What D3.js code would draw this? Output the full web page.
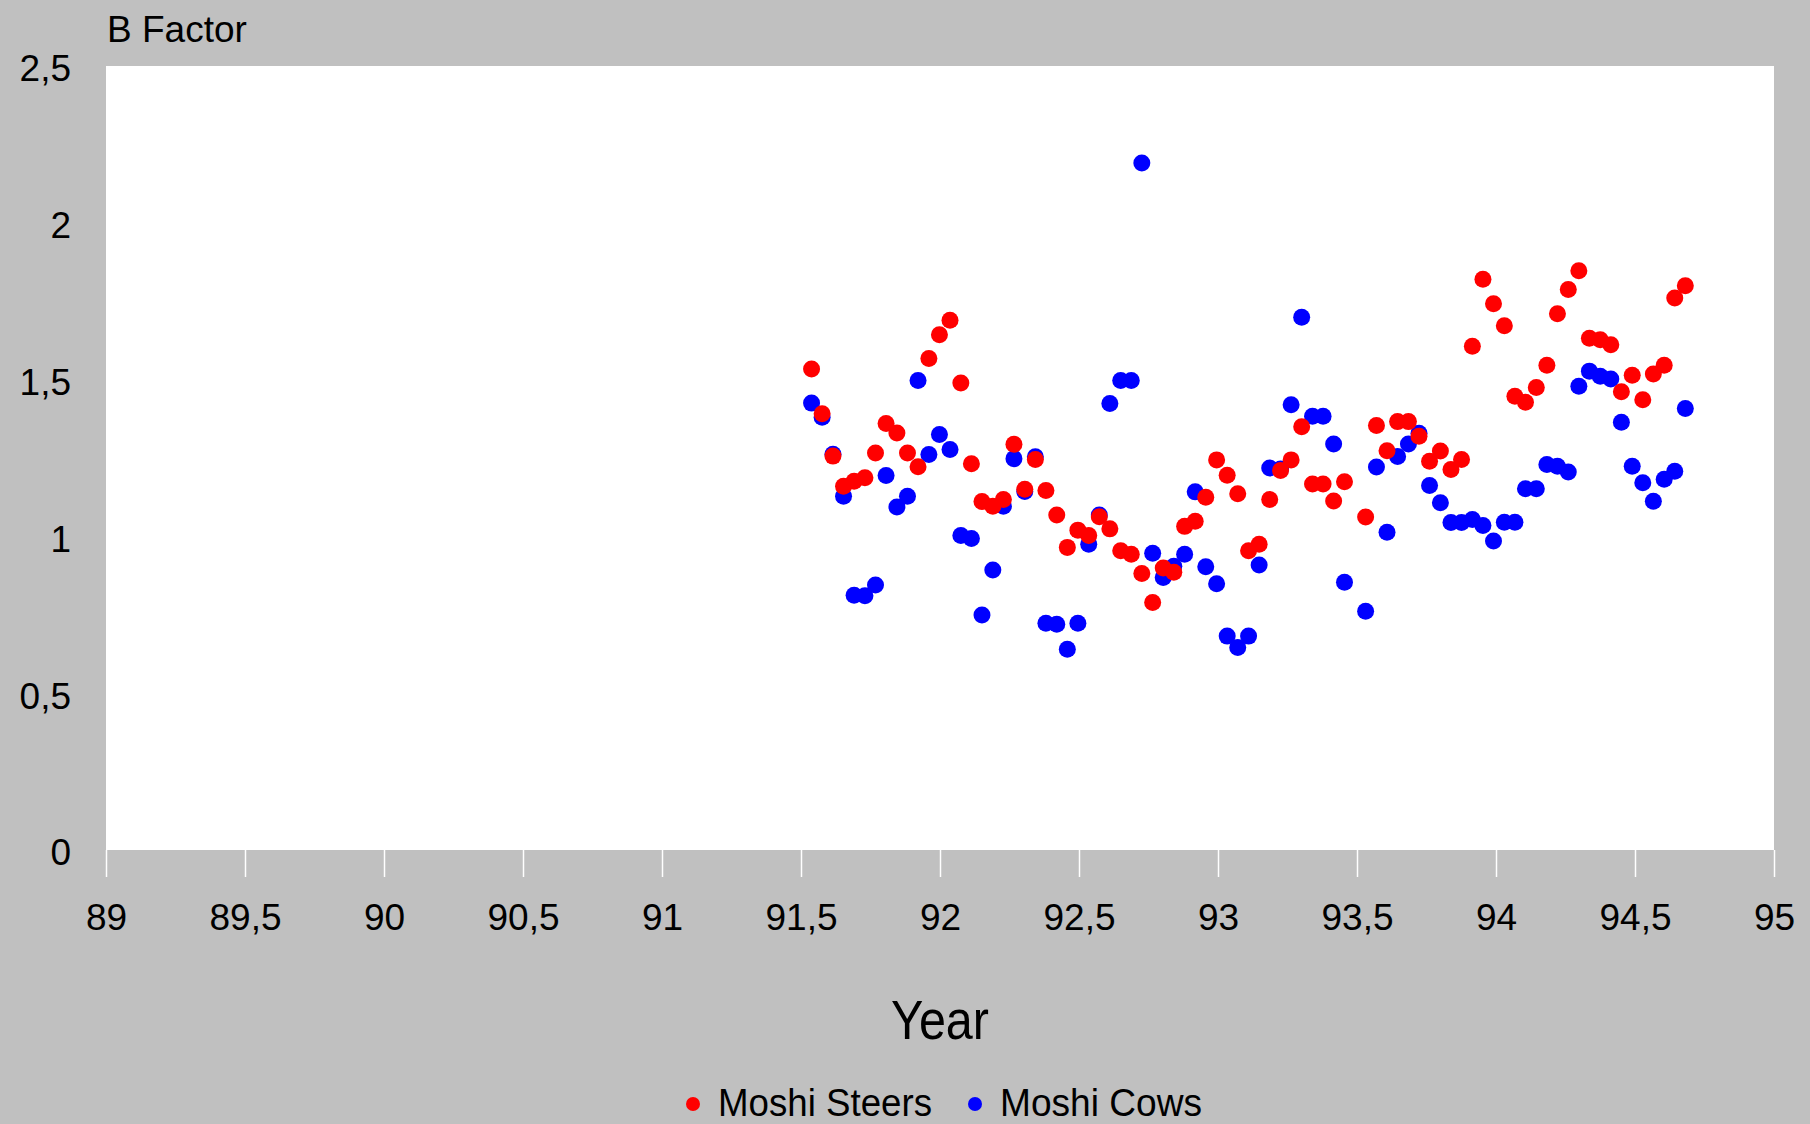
<!DOCTYPE html>
<html>
<head>
<meta charset="utf-8">
<style>
    body { margin: 0; background: #c0c0c0; }
    svg { display: block; font-family: "Liberation Sans", Arial, sans-serif; }
</style>
</head>
<body>
<svg id="chart" width="1810" height="1124"></svg>

<script src="https://d3js.org/d3.v7.min.js"></script>
<script>
    // sampling dates (decimal year), one date around 93.49 has no reading
    var years = [
        91.538, 91.576, 91.615, 91.653, 91.691, 91.730, 91.768, 91.806, 91.845, 91.883,
        91.921, 91.960, 91.998, 92.036, 92.075, 92.113, 92.151, 92.190, 92.228, 92.266,
        92.305, 92.343, 92.381, 92.420, 92.458, 92.496, 92.535, 92.573, 92.611, 92.650,
        92.688, 92.726, 92.765, 92.803, 92.841, 92.880, 92.918, 92.956, 92.995, 93.033,
        93.071, 93.110, 93.148, 93.186, 93.225, 93.263, 93.301, 93.340, 93.378, 93.416,
        93.455, 93.531, 93.570, 93.608, 93.646, 93.685, 93.723, 93.761, 93.800,
        93.838, 93.876, 93.915, 93.953, 93.991, 94.030, 94.068, 94.106, 94.145, 94.183,
        94.221, 94.260, 94.298, 94.336, 94.375, 94.413, 94.451, 94.490, 94.528, 94.566,
        94.605, 94.643, 94.681
    ];

    var steers = [
        1.534, 1.391, 1.256, 1.160, 1.176, 1.187, 1.266, 1.360, 1.330, 1.266,
        1.222, 1.567, 1.643, 1.689, 1.489, 1.232, 1.111, 1.096, 1.118, 1.294,
        1.150, 1.245, 1.146, 1.068, 0.965, 1.020, 1.003, 1.063, 1.024, 0.954,
        0.943, 0.882, 0.789, 0.899, 0.886, 1.032, 1.048, 1.125, 1.244, 1.195,
        1.136, 0.954, 0.975, 1.118, 1.210, 1.244, 1.350, 1.167, 1.167, 1.113,
        1.174, 1.062, 1.354, 1.273, 1.366, 1.366, 1.319, 1.240, 1.272,
        1.213, 1.245, 1.606, 1.820, 1.742, 1.672, 1.447, 1.428, 1.475, 1.546,
        1.710, 1.787, 1.847, 1.632, 1.627, 1.611, 1.461, 1.514, 1.436, 1.518,
        1.546, 1.760, 1.799
    ];

    var cows = [
        1.425, 1.380, 1.262, 1.128, 0.812, 0.811, 0.845, 1.194, 1.094, 1.128,
        1.497, 1.261, 1.325, 1.277, 1.003, 0.993, 0.749, 0.893, 1.096, 1.248,
        1.143, 1.254, 0.723, 0.720, 0.640, 0.723, 0.975, 1.068, 1.424, 1.497,
        1.497, 2.191, 0.946, 0.869, 0.905, 0.943, 1.142, 0.903, 0.849, 0.682,
        0.646, 0.682, 0.909, 1.218, 1.215, 1.420, 1.699, 1.383, 1.383, 1.295,
        0.854, 0.761, 1.221, 1.013, 1.255, 1.295, 1.329, 1.162, 1.107,
        1.044, 1.044, 1.054, 1.035, 0.985, 1.045, 1.045, 1.152, 1.152, 1.229,
        1.224, 1.205, 1.479, 1.527, 1.511, 1.502, 1.364, 1.224, 1.171, 1.112,
        1.182, 1.208, 1.408
    ];

    var xTicks = [89, 89.5, 90, 90.5, 91, 91.5, 92, 92.5, 93, 93.5, 94, 94.5, 95];
    var yTicks = [0, 0.5, 1, 1.5, 2, 2.5];

    var series = [
        {name: "Moshi Steers", color: "#ff0000", values: steers},
        {name: "Moshi Cows", color: "#0000ff", values: cows}
    ];

    var svg = d3.select("#chart");
    var plotLeft = 106, plotRight = 1774, plotTop = 66, plotBottom = 850;

    var x = d3.scaleLinear().domain([89, 95]).range([plotLeft, plotRight]);
    var y = d3.scaleLinear().domain([0, 2.5]).range([plotBottom, plotTop]);

    var comma = d3.formatLocale({decimal: ",", thousands: ".", grouping: [3], currency: ["", ""]}).format("~g");

    svg.append("rect").attr("width", 1810).attr("height", 1124).attr("fill", "#c0c0c0");
    svg.append("rect")
        .attr("x", plotLeft).attr("y", plotTop)
        .attr("width", plotRight - plotLeft).attr("height", plotBottom - plotTop)
        .attr("fill", "#fff");

    // x axis: white ticks hanging below the plot
    var xAxis = svg.append("g")
        .attr("transform", "translate(0," + plotBottom + ")")
        .call(d3.axisBottom(x).tickValues(xTicks).tickSize(27).tickPadding(27).tickFormat(comma));
    xAxis.select(".domain").remove();
    xAxis.selectAll(".tick line").attr("stroke", "#fff").attr("stroke-width", 1.5);
    xAxis.selectAll(".tick text")
        .attr("fill", "#000").attr("font-size", 37)
        .attr("font-family", "Liberation Sans, Arial, sans-serif");

    var yAxis = svg.append("g")
        .attr("transform", "translate(" + plotLeft + ",0)")
        .call(d3.axisLeft(y).tickValues(yTicks).tickSize(0).tickPadding(35).tickFormat(comma));
    yAxis.select(".domain").remove();
    yAxis.selectAll(".tick text")
        .attr("fill", "#000").attr("font-size", 37)
        .attr("dy", "0.4em")
        .attr("font-family", "Liberation Sans, Arial, sans-serif");

    svg.append("text")
        .attr("x", 107).attr("y", 42)
        .attr("font-size", 37)
        .text("B Factor");

    svg.append("text")
        .attr("x", (plotLeft + plotRight) / 2).attr("y", 1039)
        .attr("text-anchor", "middle")
        .attr("font-size", 55)
        .attr("textLength", 98).attr("lengthAdjust", "spacingAndGlyphs")
        .text("Year");

    // cows drawn first, steers on top
    var drawOrder = [series[1], series[0]];
    drawOrder.forEach(function (s) {
        svg.append("g")
            .selectAll("circle")
            .data(years.map(function (yr, i) { return [yr, s.values[i]]; }))
            .enter().append("circle")
            .attr("cx", function (d) { return x(d[0]); })
            .attr("cy", function (d) { return y(d[1]); })
            .attr("r", 8.5)
            .attr("fill", s.color);
    });

    // legend
    var legendX = [693, 975];
    var legendW = [214, 202];
    var legend = svg.append("g");
    series.forEach(function (s, i) {
        legend.append("circle")
            .attr("cx", legendX[i]).attr("cy", 1104).attr("r", 7)
            .attr("fill", s.color);
        legend.append("text")
            .attr("x", legendX[i] + 25).attr("y", 1116)
            .attr("font-size", 39)
            .attr("textLength", legendW[i]).attr("lengthAdjust", "spacingAndGlyphs")
            .text(s.name);
    });
</script>
</body>
</html>
